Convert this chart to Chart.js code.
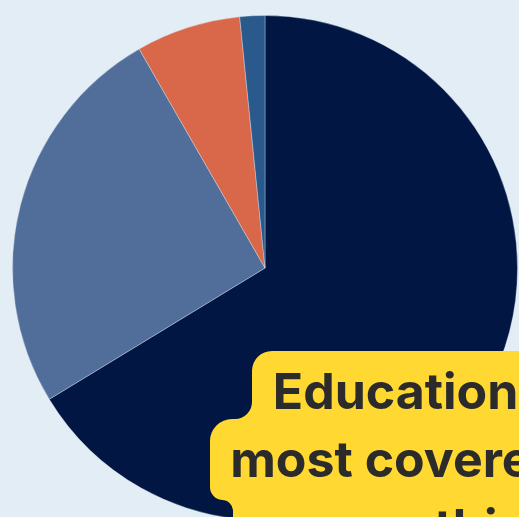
<!DOCTYPE html>
<html lang="en">
<head>
  <meta charset="UTF-8" />
  <title>Themes covered</title>
  <script src="https://cdn.jsdelivr.net/npm/chart.js"></script>
  <style>
    html, body {
      margin: 0;
      padding: 0;
    }
    body {
      width: 519px;
      height: 517px;
      overflow: hidden;
      position: relative;
      background: #e3edf5;
      font-family: "Inter", sans-serif;
    }
    .chart-box {
      position: absolute;
      left: 12px;
      top: 15px;
      width: 506px;
      height: 506px;
    }
    .blob {
      position: absolute;
      left: 0;
      top: 0;
    }
    .note {
      position: absolute;
      left: 180px;
      top: 357px;
      width: 600px;
      text-align: center;
      font-size: 50px;
      line-height: 68px;
      font-weight: 700;
      color: #2b2b2b;
      white-space: nowrap;
    }
  </style>
</head>
<body>
  <div class="chart-box"><canvas id="pie"></canvas></div>
  <svg class="blob" width="519" height="517">
    <path fill="#ffd832" d="M 600 351 L 272 351 A 20 20 0 0 0 252 371 L 252 402 A 17 17 0 0 1 235 419 L 232 419 A 22 22 0 0 0 210 441 L 210 487 A 13 13 0 0 0 223 500 L 222 500 A 11 11 0 0 1 233 511 L 233 600 L 600 600 Z" />
  </svg>
  <div class="note">Education is now<br>most covered theme<br>this</div>
  <script>
    // slices, clockwise from 12 o'clock
    const labels = ["Education", "Health", "Environment", "Other"];
    const shares = [66.3, 25.4, 6.7, 1.6];
    const colors = ["#011642", "#506e99", "#d9674a", "#2a5a8c"];

    new Chart(document.getElementById('pie'), {
      type: 'pie',
      data: {
        labels: labels,
        datasets: [{
          data: shares,
          backgroundColor: colors,
          borderColor: 'rgba(227, 237, 245, 0.35)',
          borderWidth: 1
        }]
      },
      options: {
        responsive: true,
        maintainAspectRatio: false,
        animation: false,
        layout: { padding: 0 },
        plugins: {
          legend: { display: false },
          tooltip: { enabled: false }
        }
      }
    });
  </script>
</body>
</html>
